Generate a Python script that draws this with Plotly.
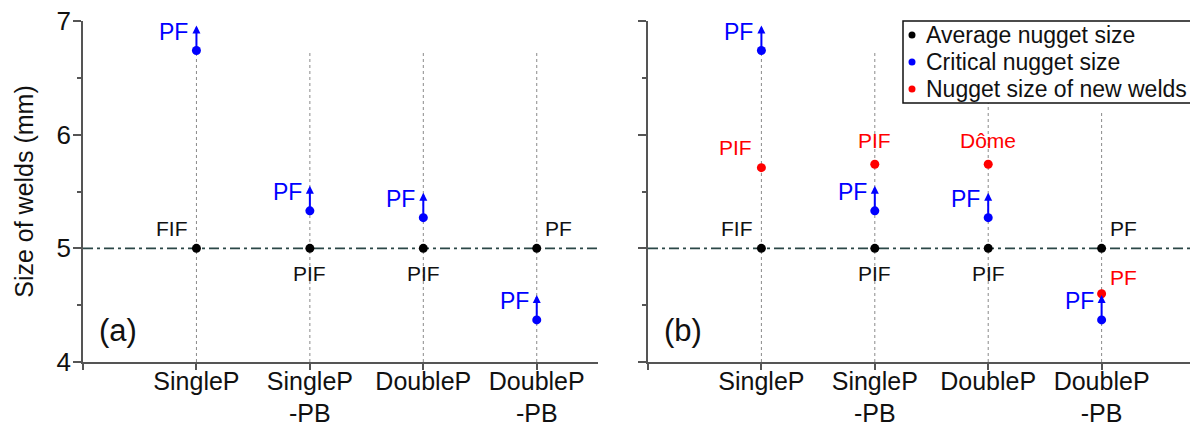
import plotly.graph_objects as go

# ---------------- data ----------------
categories = ["SingleP", "SingleP<br>-PB", "DoubleP", "DoubleP<br>-PB"]
cat_pos = [1, 2, 3, 4]
average_size = [5.0, 5.0, 5.0, 5.0]
average_labels = ["FIF", "PIF", "PIF", "PF"]
critical_size = [6.74, 5.33, 5.27, 4.37]
critical_labels = ["PF", "PF", "PF", "PF"]
new_weld_size = [5.71, 5.74, 5.74, 4.60]
new_weld_labels = ["PIF", "PIF", "Dôme", "PF"]
series_names = ["Average nugget size", "Critical nugget size", "Nugget size of new welds"]
reference_size = 5.0
guide_top_a = [6.74, 6.72, 6.72, 6.72]
guide_top_b = [6.74, 6.72, 6.72, 6.20]
y_ticks = [4, 5, 6, 7]
y_minor = [4.5, 5.5, 6.5]
y_range = [4, 7]

# ---------------- styles ----------------
FONT = "Arial, Liberation Sans, sans-serif"
BLACK = "#000000"
BLUE = "#0000ff"
RED = "#ff0000"
AXIS = "#555555"
TXT = "#111111"
series_colors = [BLACK, BLUE, RED]
ARROW_LEN = 0.22
# label placements: (xanchor, xshift, yshift)
avg_place = [("right", -6, 20), ("center", 0, -25), ("center", 0, -25), ("left", 6, 20)]
new_place = [("right", -7, 20), ("center", 0, 24), ("center", 0, 24), ("left", 6, 16)]
crit_place = ("right", -6, 19)

# the page body adds an 8px offset; figure sized so that it fills the window exactly
OFF = 8
W, H = 1198 - OFF, 428 - OFF
ML, MR, MT, MB = 83 - OFF, 0, 21 - OFF, H - (362 - OFF)
PW, PH = W - ML - MR, H - MT - MB


def px_x(page_x):
    return (page_x - OFF - ML) / PW


def px_y(page_y):
    return (H - MB - (page_y - OFF)) / PH


fig = go.Figure()

panels = [
    dict(x="x", y="y", guide=guide_top_a, new=False, tag="(a)"),
    dict(x="x2", y="y2", guide=guide_top_b, new=True, tag="(b)"),
]

annotations = []
shapes = []
for p in panels:
    gx, gy = [], []
    for c, top in zip(cat_pos, p["guide"]):
        gx += [c, c, None]
        gy += [y_range[0], top, None]
    fig.add_trace(go.Scatter(x=gx, y=gy, mode="lines", xaxis=p["x"], yaxis=p["y"],
                             line=dict(color="#8a8a8a", width=1, dash="dot"),
                             showlegend=False, hoverinfo="skip"))
    shapes.append(dict(type="line", xref=f"{p['x']} domain", yref=p["y"], x0=0, x1=1,
                       y0=reference_size, y1=reference_size, layer="below",
                       line=dict(color="#2b4747", width=1.6, dash="10px,4px,3px,4px")))
    fig.add_trace(go.Scatter(x=cat_pos, y=average_size, mode="markers", xaxis=p["x"], yaxis=p["y"],
                             marker=dict(color=BLACK, size=9), name=series_names[0], showlegend=False))
    fig.add_trace(go.Scatter(x=cat_pos, y=critical_size, mode="markers", xaxis=p["x"], yaxis=p["y"],
                             marker=dict(color=BLUE, size=9), name=series_names[1], showlegend=False))
    if p["new"]:
        fig.add_trace(go.Scatter(x=cat_pos, y=new_weld_size, mode="markers", xaxis=p["x"], yaxis=p["y"],
                                 marker=dict(color=RED, size=9), name=series_names[2], showlegend=False))
    # arrows on critical sizes
    for c, v in zip(cat_pos, critical_size):
        annotations.append(dict(x=c, y=v + ARROW_LEN, ax=c, ay=v, xref=p["x"], yref=p["y"],
                                axref=p["x"], ayref=p["y"], text="", showarrow=True,
                                arrowhead=2, arrowsize=0.8, arrowwidth=2, arrowcolor=BLUE,
                                standoff=0, startstandoff=0))
    # labels
    for c, v, t, (xa, xs, ys) in zip(cat_pos, average_size, average_labels, avg_place):
        annotations.append(dict(x=c, y=v, xref=p["x"], yref=p["y"], text=t, showarrow=False,
                                xanchor=xa, yanchor="middle", xshift=xs, yshift=ys,
                                font=dict(family=FONT, size=21, color=TXT)))
    for c, v, t in zip(cat_pos, critical_size, critical_labels):
        xa, xs, ys = crit_place
        annotations.append(dict(x=c, y=v, xref=p["x"], yref=p["y"], text=t, showarrow=False,
                                xanchor=xa, yanchor="middle", xshift=xs, yshift=ys,
                                font=dict(family=FONT, size=23, color=BLUE)))
    if p["new"]:
        for c, v, t, (xa, xs, ys) in zip(cat_pos, new_weld_size, new_weld_labels, new_place):
            annotations.append(dict(x=c, y=v, xref=p["x"], yref=p["y"], text=t, showarrow=False,
                                    xanchor=xa, yanchor="middle", xshift=xs, yshift=ys,
                                    font=dict(family=FONT, size=21, color=RED)))
    annotations.append(dict(x=0.12, y=4.28, xref=p["x"], yref=p["y"], text=p["tag"], showarrow=False,
                            xanchor="left", yanchor="middle",
                            font=dict(family=FONT, size=31, color=TXT)))

# legend box (built to match the compact original legend)
LX0, LX1, LY0, LY1 = 903, 1195, 21, 103
shapes.append(dict(type="rect", xref="paper", yref="paper", x0=px_x(LX0), x1=px_x(LX1),
                   y0=px_y(LY1), y1=px_y(LY0), fillcolor="white",
                   line=dict(color=TXT, width=1.5), layer="above"))
for i, (name, col) in enumerate(zip(series_names, series_colors)):
    cy = 35 + 27 * i
    shapes.append(dict(type="circle", xref="paper", yref="paper",
                       x0=px_x(912 - 3.5), x1=px_x(912 + 3.5),
                       y0=px_y(cy + 3.5), y1=px_y(cy - 3.5),
                       fillcolor=col, line=dict(color=col, width=0), layer="above"))
    annotations.append(dict(x=px_x(924), y=px_y(cy), xref="paper", yref="paper", text=name,
                            showarrow=False, xanchor="left", yanchor="middle",
                            font=dict(family=FONT, size=23, color=TXT)))

xcommon = dict(showline=True, linecolor=AXIS, linewidth=1.6, ticks="outside", ticklen=6,
               tickcolor=AXIS, tickwidth=1.5, tickvals=[0] + cat_pos, ticktext=[""] + categories,
               showgrid=False, zeroline=False, automargin=False, ticklabelstandoff=-10,
               ticklabeloverflow="allow",
               tickfont=dict(family=FONT, size=25, color=TXT))
ycommon = dict(range=y_range, showline=True, linecolor=AXIS, linewidth=1.6, ticks="outside",
               ticklen=8, tickcolor=AXIS, tickwidth=1.5, tickvals=y_ticks, showgrid=False,
               zeroline=False, automargin=False, ticklabelstandoff=-3, ticklabeloverflow="allow",
               tickfont=dict(family=FONT, size=26, color=TXT),
               minor=dict(tickvals=y_minor, ticks="outside", ticklen=4, tickcolor=AXIS, tickwidth=1.5))

fig.update_layout(
    width=W, height=H,
    margin=dict(l=ML, r=MR, t=MT, b=MB, autoexpand=False),
    paper_bgcolor="white", plot_bgcolor="white",
    font=dict(family=FONT, color=TXT),
    xaxis=dict(domain=[0, px_x(598)], range=[0, 4.54], anchor="y", **xcommon),
    xaxis2=dict(domain=[px_x(648), 1.0], range=[0, 4.85], anchor="y2", **xcommon),
    yaxis=dict(anchor="x", title=dict(text="Size of welds (mm)", standoff=16,
                                      font=dict(family=FONT, size=25, color=TXT)), **ycommon),
    yaxis2=dict(anchor="x2", showticklabels=False, **ycommon),
    annotations=annotations,
    shapes=shapes,
    showlegend=False,
)

fig.write_html("out.html")
